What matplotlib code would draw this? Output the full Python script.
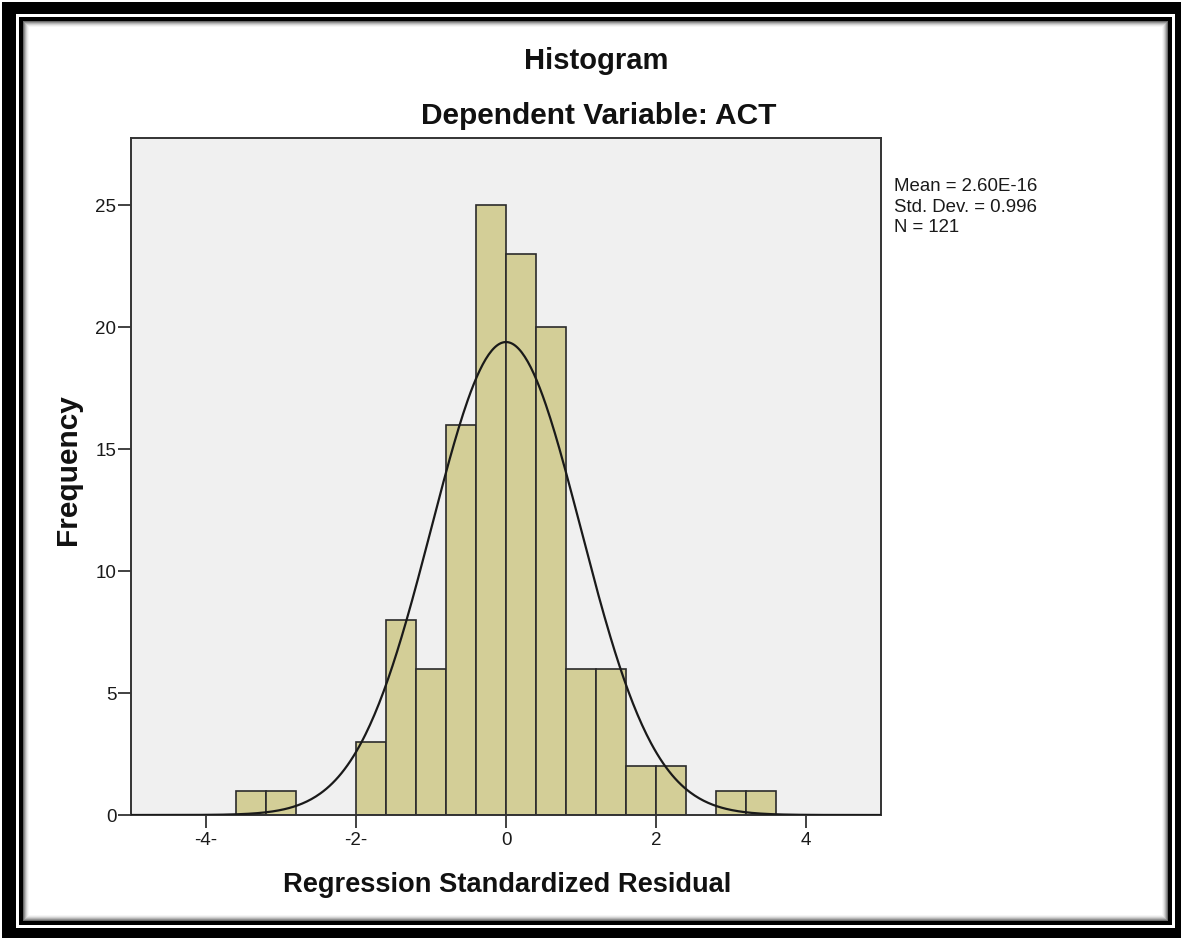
import numpy as np
import matplotlib
matplotlib.use("Agg")
import matplotlib.pyplot as plt
from matplotlib.patches import Rectangle

plt.rcParams["font.family"] = ["Liberation Sans", "DejaVu Sans"]

# histogram bins (left edge) and counts, bin width 0.4
bin_lefts = [-3.6, -3.2, -2.0, -1.6, -1.2, -0.8, -0.4, 0.0, 0.4, 0.8,
             1.2, 1.6, 2.0, 2.8, 3.2]
counts = [1, 1, 3, 8, 6, 16, 25, 23, 20, 6, 6, 2, 2, 1, 1]
bin_width = 0.4

mean_val = 2.60e-16
std_val = 0.996
n_val = 121

x_ticks = [-4, -2, 0, 2, 4]
x_tick_labels = ["-4-", "-2-", "0", "2", "4"]
y_ticks = [0, 5, 10, 15, 20, 25]

W, H = 1181, 938
fig = plt.figure(figsize=(W / 100, H / 100), dpi=100, facecolor="white")


def px_rect(x0, y0, x1, y1, color):
    # pixel coords measured from top-left
    fig.patches.append(Rectangle((x0 / W, 1 - y1 / H), (x1 - x0) / W,
                                 (y1 - y0) / H, transform=fig.transFigure,
                                 facecolor=color, edgecolor="none",
                                 zorder=-10))


# picture frame with inset shadow
px_rect(2, 2, W, H, "black")
px_rect(16, 14, 1175, 928, "white")
px_rect(19, 17, 1172, 925, "black")
for i, g in enumerate(["#6a6a6a", "#929292", "#b5b5b5", "#d2d2d2",
                       "#e8e8e8", "#f6f6f6", "white"]):
    px_rect(23 + i, 21 + i, 1168 - i, 921 - i, g)

ax = fig.add_axes([131 / W, 1 - 815 / H, 750 / W, 677 / H])
ax.set_facecolor("#f0f0f0")

ax.bar(bin_lefts, counts, width=bin_width, align="edge", color="#d3ce97",
       edgecolor="#2b2b2b", linewidth=1.2, zorder=2)

xs = np.linspace(-5, 5, 500)
curve = n_val * bin_width * np.exp(-0.5 * ((xs - mean_val) / std_val) ** 2) \
    / (std_val * np.sqrt(2 * np.pi))
ax.plot(xs, curve, color="#1a1a1a", linewidth=1.6, zorder=3)

ax.set_xlim(-5, 5)
ax.set_ylim(0, 27.75)
ax.set_xticks(x_ticks)
ax.set_xticklabels(x_tick_labels)
ax.set_yticks(y_ticks)
ax.tick_params(axis="both", length=9.5, width=1.3, color="#333333",
               labelsize=13.5, labelcolor="#1a1a1a")
ax.tick_params(axis="x", pad=3)
ax.tick_params(axis="y", pad=1)
for s in ax.spines.values():
    s.set_color("#333333")
    s.set_linewidth(1.4)

fig.text(596 / W, 1 - 61 / H, "Histogram", ha="center", va="center",
         fontsize=21, fontweight="bold", color="#111111")
fig.text(599 / W, 1 - 116 / H, "Dependent Variable: ACT", ha="center",
         va="center", fontsize=21.5, fontweight="bold", color="#111111")
fig.text(507 / W, 1 - 885 / H, "Regression Standardized Residual",
         ha="center", va="center", fontsize=19.6, fontweight="bold",
         color="#111111")
fig.text(68 / W, 1 - 470 / H, "Frequency", ha="center", va="center",
         rotation=90, fontsize=21.5, fontweight="bold", color="#111111")

stats = "Mean = 2.60E-16\n" + f"Std. Dev. = {std_val:.3f}\nN = {n_val}"
fig.text(894 / W, 1 - 178 / H, stats, ha="left", va="top", fontsize=13.4,
         linespacing=1.27, color="#1a1a1a")

fig.savefig("out.png", dpi=100)
